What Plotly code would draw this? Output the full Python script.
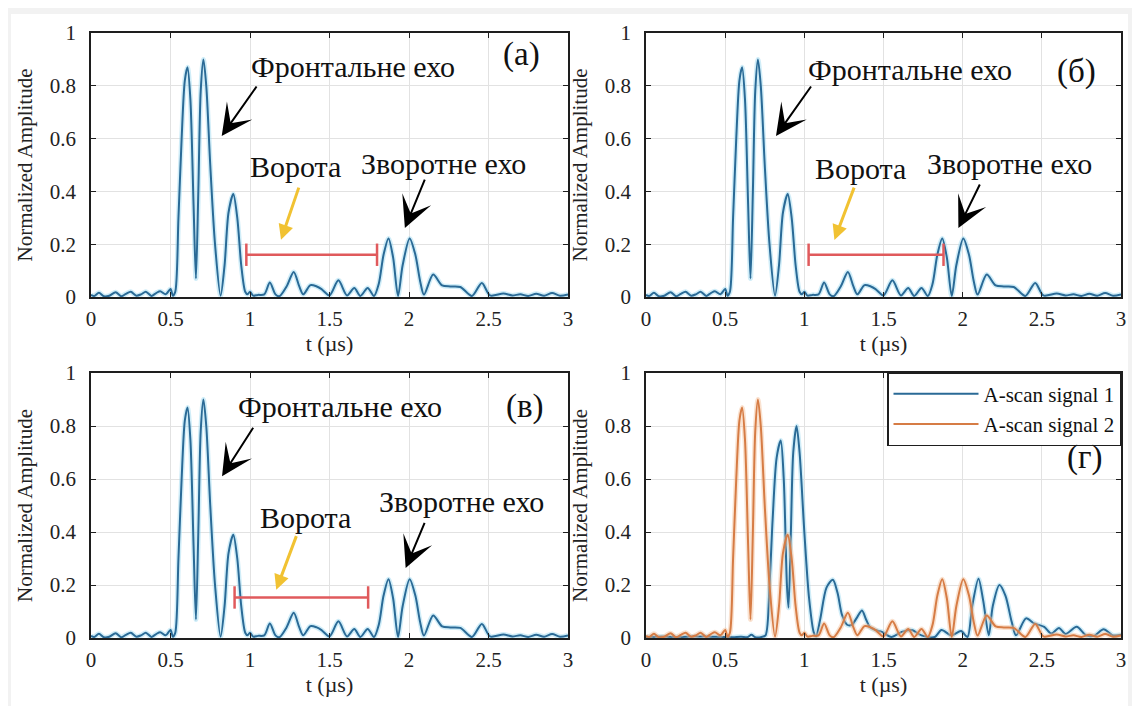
import plotly.graph_objects as go

# ---------------- data ----------------
t_a = [0.000, 0.020, 0.050, 0.080, 0.115, 0.155, 0.190, 0.220, 0.250, 0.285,
       0.315, 0.345, 0.380, 0.410, 0.435, 0.470, 0.500, 0.515, 0.530, 0.550,
       0.570, 0.590, 0.607, 0.625, 0.645, 0.660, 0.675, 0.690, 0.707, 0.725,
       0.750, 0.780, 0.815, 0.840, 0.865, 0.895, 0.920, 0.945, 0.970, 0.985,
       1.000, 1.020, 1.050, 1.090, 1.125, 1.160, 1.185, 1.230, 1.275, 1.310,
       1.335, 1.380, 1.420, 1.450, 1.500, 1.556, 1.610, 1.656, 1.694, 1.740,
       1.780, 1.810, 1.840, 1.871, 1.900, 1.931, 1.960, 2.004, 2.040, 2.070,
       2.094, 2.152, 2.208, 2.260, 2.323, 2.396, 2.458, 2.510, 2.594, 2.650,
       2.700, 2.750, 2.800, 2.850, 2.900, 2.950, 3.000]
amp_a = [0.008, 0.004, 0.016, 0.003, 0.005, 0.018, 0.003, 0.012, 0.020, 0.005,
         0.010, 0.020, 0.004, 0.015, 0.022, 0.010, 0.030, 0.005, 0.020, 0.300,
         0.600, 0.820, 0.870, 0.750, 0.350, 0.070, 0.400, 0.780, 0.900, 0.800,
         0.500, 0.200, 0.005, 0.120, 0.320, 0.390, 0.300, 0.120, 0.020, 0.010,
         0.020, 0.005, 0.008, 0.010, 0.055, 0.010, 0.003, 0.040, 0.095, 0.040,
         0.010, 0.045, 0.040, 0.030, 0.006, 0.063, 0.006, 0.034, 0.004, 0.034,
         0.004, 0.050, 0.160, 0.222, 0.150, 0.004, 0.120, 0.222, 0.160, 0.060,
         0.009, 0.085, 0.044, 0.040, 0.038, 0.004, 0.053, 0.006, 0.013, 0.006,
         0.010, 0.004, 0.012, 0.005, 0.015, 0.005, 0.010]

t_b = [0.000, 0.100, 0.200, 0.300, 0.400, 0.500, 0.550, 0.600, 0.640, 0.666,
       0.690, 0.730, 0.755, 0.780, 0.800, 0.825, 0.851, 0.870, 0.890, 0.900,
       0.915, 0.930, 0.951, 0.970, 1.000, 1.030, 1.060, 1.074, 1.100, 1.140,
       1.180, 1.210, 1.238, 1.270, 1.300, 1.335, 1.364, 1.390, 1.416, 1.450,
       1.490, 1.550, 1.615, 1.678, 1.740, 1.824, 1.866, 1.929, 1.990, 2.030,
       2.060, 2.100, 2.130, 2.165, 2.190, 2.232, 2.270, 2.310, 2.337, 2.400,
       2.452, 2.515, 2.560, 2.609, 2.650, 2.720, 2.780, 2.830, 2.890, 2.950,
       3.000]
amp_b = [0.004, 0.006, 0.004, 0.006, 0.005, 0.004, 0.003, 0.005, 0.003, 0.012,
         0.003, 0.004, 0.010, 0.200, 0.450, 0.680, 0.745, 0.600, 0.200, 0.114,
         0.400, 0.700, 0.800, 0.700, 0.400, 0.150, 0.020, 0.006, 0.070, 0.190,
         0.220, 0.170, 0.087, 0.050, 0.050, 0.080, 0.104, 0.070, 0.040, 0.030,
         0.023, 0.004, 0.023, 0.030, 0.010, 0.004, 0.030, 0.010, 0.026, 0.004,
         0.120, 0.224, 0.140, 0.010, 0.120, 0.200, 0.160, 0.060, 0.010, 0.074,
         0.055, 0.042, 0.017, 0.038, 0.015, 0.042, 0.010, 0.008, 0.033, 0.010,
         0.012]

x_tick_vals = [0, 0.5, 1, 1.5, 2, 2.5, 3]
x_tick_text = ["0", "0.5", "1", "1.5", "2", "2.5", "3"]
y_tick_vals = [0, 0.2, 0.4, 0.6, 0.8, 1]
y_tick_text = ["0", "0.2", "0.4", "0.6", "0.8", "1"]

panel_labels = ["(а)", "(б)", "(в)", "(г)"]
gate_start = [0.977, 1.027, 0.903]
gate_end = [1.799, 1.879, 1.743]
gate_level = [0.160, 0.160, 0.153]
legend_names = ["A-scan signal 1", "A-scan signal 2"]
front_label = "Фронтальне ехо"
gate_label = "Ворота"
back_label = "Зворотне ехо"
x_title = "t (µs)"
y_title = "Normalized Amplitude"

# ---------------- styles / layout ----------------
W, H = 1140, 706
SERIF = "Liberation Serif"
BLUE = "#2a6a96"
HALO = "rgba(150,215,240,0.45)"
ORANGE = "#d67c45"
ORANGE_HALO = "rgba(245,190,150,0.45)"
RED = "#e05a5c"
YELLOW = "#f1c232"
INK = "#1e1e1e"

col_px = [(83, 560), (638, 1113)]
row_px = [(25, 289), (365, 630)]


def xdom(c):
    return [col_px[c][0] / W, col_px[c][1] / W]


def ydom(r):
    return [1 - row_px[r][1] / H, 1 - row_px[r][0] / H]


fig = go.Figure()

cells = [(0, 0), (0, 1), (1, 0), (1, 1)]
axis_ids = ["", "2", "3", "4"]

layout = dict(
    template="none",
    width=W, height=H, margin=dict(l=0, r=0, t=0, b=0, pad=0),
    paper_bgcolor="#f2f2f2", plot_bgcolor="white", autosize=False,
    showlegend=True,
    legend=dict(x=1113 / W, y=1 - 364 / H, xanchor="right", yanchor="top",
                bgcolor="white", bordercolor=INK, borderwidth=1.5,
                font=dict(family=SERIF, size=21, color="#111"),
                itemwidth=85, tracegroupgap=0,
                traceorder="normal"),
    shapes=[dict(type="rect", xref="paper", yref="paper",
                 x0=3 / W, x1=1120 / W, y0=1 - 698 / H, y1=1 - 6 / H,
                 fillcolor="white", line=dict(width=0), layer="below")],
    annotations=[],
)

for (r, c), aid in zip(cells, axis_ids):
    layout["xaxis" + aid] = dict(
        domain=xdom(c), anchor="y" + aid, range=[0, 3], automargin=False,
        tickvals=x_tick_vals, ticktext=x_tick_text,
        ticks="inside", ticklen=5, tickwidth=1, tickcolor=INK,
        showline=True, linecolor=INK, linewidth=1.5, mirror="ticks",
        showgrid=True, gridcolor="#e2e2e2", gridwidth=1, zeroline=False,
        tickfont=dict(family=SERIF, size=21, color="#222"),
        ticklabelstandoff=2,
        title=dict(text=x_title, font=dict(family=SERIF, size=22, color="#222"),
                   standoff=4),
        fixedrange=True)
    layout["yaxis" + aid] = dict(
        domain=ydom(r), anchor="x" + aid, range=[0, 1], automargin=False,
        tickvals=y_tick_vals, ticktext=y_tick_text,
        ticks="inside", ticklen=5, tickwidth=1, tickcolor=INK,
        showline=True, linecolor=INK, linewidth=1.5, mirror="ticks",
        showgrid=True, gridcolor="#e2e2e2", gridwidth=1, zeroline=False,
        tickfont=dict(family=SERIF, size=21, color="#222"),
        ticklabelstandoff=9,
        title=dict(text=y_title, font=dict(family=SERIF, size=21, color="#222"),
                   standoff=11),
        fixedrange=True)


def add_signal(t, a, aid, color, halo, name=None, legend=False):
    fig.add_trace(go.Scatter(x=t, y=a, xaxis="x" + aid, yaxis="y" + aid,
                             mode="lines", line=dict(color=halo, width=5, shape="spline", smoothing=0.8),
                             showlegend=False, hoverinfo="skip"))
    fig.add_trace(go.Scatter(x=t, y=a, xaxis="x" + aid, yaxis="y" + aid,
                             mode="lines", name=name,
                             line=dict(color=color, width=2, shape="spline", smoothing=0.8),
                             showlegend=legend))


# panels a, б, в
for i, aid in enumerate(axis_ids[:3]):
    add_signal(t_a, amp_a, aid, BLUE, HALO)
    fig.add_trace(go.Scatter(
        x=[gate_start[i], gate_end[i]], y=[gate_level[i], gate_level[i]],
        xaxis="x" + aid, yaxis="y" + aid, mode="lines+markers",
        line=dict(color=RED, width=2.5),
        marker=dict(symbol="line-ns", size=16, line=dict(color=RED, width=2.5)),
        showlegend=False, hoverinfo="skip"))

# panel г
add_signal(t_b, amp_b, "4", BLUE, HALO, legend_names[0], True)
add_signal(t_a, amp_a, "4", ORANGE, ORANGE_HALO, legend_names[1], True)

# ---------------- annotations ----------------
ann = layout["annotations"]
text_pos = {
    "": dict(front=(1.65, 0.875), gate=(1.284, 0.495), back=(2.22, 0.505), label=(2.71, 0.917)),
    "2": dict(front=(1.667, 0.86), gate=(1.352, 0.485), back=(2.294, 0.505), label=(2.72, 0.856)),
    "3": dict(front=(1.563, 0.872), gate=(1.35, 0.455), back=(2.332, 0.515), label=(2.73, 0.875)),
    "4": dict(label=(2.77, 0.68)),
}
arrows = {
    "": [((0.822, 0.61), (1.048, 0.803), "black"), ((1.974, 0.261), (2.103, 0.45), "black"),
         ((1.195, 0.217), (1.31, 0.42), YELLOW)],
    "2": [((0.821, 0.61), (1.049, 0.803), "black"), ((1.973, 0.261), (2.113, 0.432), "black"),
          ((1.19, 0.216), (1.318, 0.42), YELLOW)],
    "3": [((0.824, 0.61), (1.026, 0.799), "black"), ((1.979, 0.264), (2.102, 0.44), "black"),
          ((1.165, 0.182), (1.295, 0.39), YELLOW)],
}
texts = dict(front=front_label, gate=gate_label, back=back_label)

for k, aid in enumerate(axis_ids):
    pos = text_pos[aid]
    for key, (tx, ty) in pos.items():
        if key == "label":
            txt, size = panel_labels[k], 33
        else:
            txt, size = texts[key], 30
        ann.append(dict(xref="x" + aid, yref="y" + aid, x=tx, y=ty, text=txt,
                        showarrow=False, xanchor="center", yanchor="middle",
                        font=dict(family=SERIF, size=size, color="#111")))
    for (tip, tail, colr) in arrows.get(aid, []):
        yellow = colr == YELLOW
        ann.append(dict(xref="x" + aid, yref="y" + aid, axref="x" + aid, ayref="y" + aid,
                        x=tip[0], y=tip[1], ax=tail[0], ay=tail[1], text="",
                        showarrow=True, arrowcolor=colr,
                        arrowhead=2 if yellow else 3,
                        arrowsize=1.0 if yellow else 2.6,
                        arrowwidth=3 if yellow else 2, standoff=0, startstandoff=0))

fig.update_layout(**layout)
fig.write_html("out.html")
